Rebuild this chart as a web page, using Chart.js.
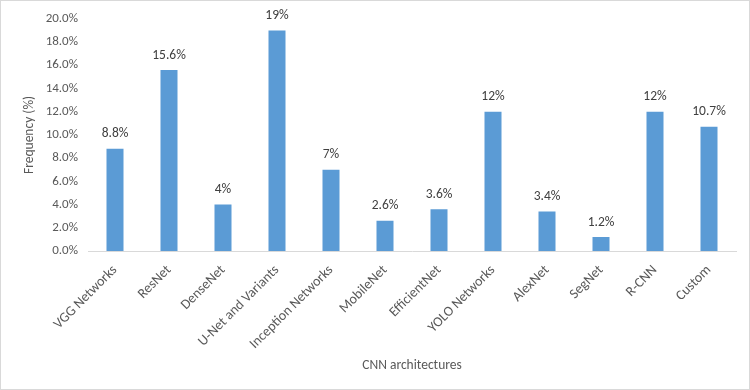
<!DOCTYPE html>
<html>
<head>
<meta charset="utf-8">
<script src="https://cdn.jsdelivr.net/npm/chart.js@4"></script>
<style>
  html, body { margin: 0; padding: 0; background: #fff; }
  #wrap { width: 750px; height: 390px; box-sizing: border-box; border: 1px solid #d9d9d9; }
  canvas { display: block; }
</style>
</head>
<body>
<div id="wrap"><canvas id="chart" width="748" height="388"></canvas></div>
<script>
const CATEGORIES = [
  'VGG Networks', 'ResNet', 'DenseNet', 'U-Net and Variants', 'Inception Networks',
  'MobileNet', 'EfficientNet', 'YOLO Networks', 'AlexNet', 'SegNet', 'R-CNN', 'Custom',
];
const FREQUENCY = [8.8, 15.6, 4, 19, 7, 2.6, 3.6, 12, 3.4, 1.2, 12, 10.7];
const Y_MIN = 0;
const Y_MAX = 20;
const Y_STEP = 2;

const FONT = 'Calibri, Carlito, Lato, sans-serif';
const TEXT = '#595959';

// values drawn above each bar
const barLabels = {
  id: 'barLabels',
  afterDatasetsDraw(chart) {
    const { ctx } = chart;
    const meta = chart.getDatasetMeta(0);
    ctx.save();
    ctx.font = `13.5px ${FONT}`;
    ctx.fillStyle = '#404040';
    ctx.textAlign = 'center';
    ctx.textBaseline = 'bottom';
    meta.data.forEach((bar, i) => {
      ctx.fillText(FREQUENCY[i] + '%', bar.x, bar.y - 8);
    });
    ctx.restore();
  },
};

new Chart(document.getElementById('chart'), {
  type: 'bar',
  data: {
    labels: CATEGORIES,
    datasets: [{
      data: FREQUENCY,
      backgroundColor: '#5b9bd5',
      categoryPercentage: 1,
      barPercentage: 0.315,
    }],
  },
  options: {
    responsive: false,
    animation: false,
    layout: { padding: { top: 16, right: 13, left: 0, bottom: 0 } },
    plugins: { legend: { display: false }, tooltip: { enabled: false } },
    scales: {
      x: {
        grid: { display: false, drawTicks: false },
        border: { color: '#d9d9d9' },
        ticks: {
          color: TEXT,
          font: { family: FONT, size: 14 },
          maxRotation: 45,
          minRotation: 45,
          padding: 11,
        },
        title: {
          display: true,
          text: 'CNN architectures',
          color: TEXT,
          font: { family: FONT, size: 13.5 },
          padding: { top: 0, bottom: 15 },
        },
        afterFit: (s) => { s.height = 138; },
      },
      y: {
        min: Y_MIN,
        max: Y_MAX,
        grid: { display: false, drawTicks: false },
        border: { display: false },
        ticks: {
          stepSize: Y_STEP,
          color: TEXT,
          font: { family: FONT, size: 13 },
          padding: 10,
          callback: (v) => v.toFixed(1) + '%',
        },
        title: {
          display: true,
          text: 'Frequency (%)',
          color: TEXT,
          font: { family: FONT, size: 13.5 },
          padding: { top: 21, bottom: 8 },
        },
        afterFit: (s) => { s.width = 87; },
      },
    },
  },
  plugins: [barLabels],
});
</script>
</body>
</html>
